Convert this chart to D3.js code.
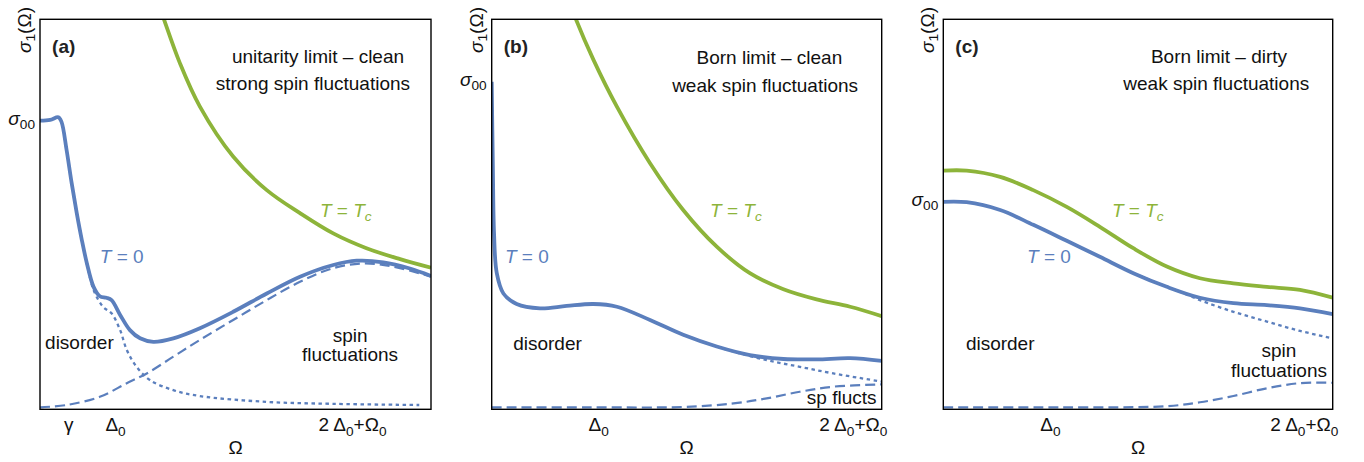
<!DOCTYPE html>
<html><head><meta charset="utf-8">
<script src="https://cdn.jsdelivr.net/npm/d3@7"></script>
<style>body{margin:0;background:#fff} text{font-family:"Liberation Sans",Arial,Helvetica,sans-serif}</style>
</head><body><svg id="chart" width="1364" height="462"></svg>
<script>
// ---------- data (normalised Ω on x, σ1 on y, both 0..1) ----------
// Panel (a): unitarity limit – clean, strong spin fluctuations
const aT0 = [[0,0.740],[0.026,0.742],[0.047,0.749],[0.055,0.737],[0.068,0.665],[0.081,0.580],[0.094,0.503],[0.107,0.434],[0.120,0.374],[0.137,0.314],[0.153,0.290],[0.170,0.286],[0.183,0.280],[0.205,0.242],[0.230,0.203],[0.256,0.182],[0.290,0.173],[0.341,0.182],[0.409,0.208],[0.494,0.250],[0.580,0.297],[0.665,0.340],[0.750,0.370],[0.810,0.381],[0.878,0.377],[0.946,0.361],[1.0,0.342]];
const aTc = [[0.300,1.05],[0.317,1.0],[0.358,0.887],[0.409,0.776],[0.494,0.648],[0.580,0.562],[0.665,0.503],[0.750,0.451],[0.835,0.413],[0.921,0.385],[1.0,0.363]];
const aDisorder = [[0,0.740],[0.026,0.742],[0.047,0.749],[0.055,0.737],[0.068,0.665],[0.081,0.580],[0.094,0.503],[0.107,0.434],[0.120,0.372],[0.137,0.306],[0.161,0.263],[0.183,0.246],[0.205,0.203],[0.222,0.152],[0.247,0.109],[0.281,0.075],[0.341,0.049],[0.409,0.034],[0.580,0.019],[0.750,0.014],[0.970,0.011]];
const aSpin = [[0,0.005],[0.068,0.011],[0.153,0.032],[0.222,0.067],[0.273,0.092],[0.341,0.135],[0.409,0.178],[0.494,0.229],[0.580,0.280],[0.665,0.327],[0.750,0.362],[0.827,0.374],[0.903,0.366],[1.0,0.340]];
const aXTicks = [0.072, 0.192, 0.798];
const aXTickLabels = ["γ", "Δ_0", "2 Δ_0+Ω_0"];
const aSigma00 = [0.740];

// Panel (b): Born limit – clean, weak spin fluctuations
const bT0 = [[0,0.840],[0.003,0.622],[0.006,0.451],[0.013,0.349],[0.030,0.297],[0.064,0.270],[0.124,0.259],[0.192,0.265],[0.261,0.270],[0.321,0.263],[0.406,0.229],[0.491,0.191],[0.577,0.161],[0.662,0.139],[0.748,0.129],[0.833,0.128],[0.919,0.131],[1.0,0.124]];
const bTc = [[0.205,1.03],[0.216,1.0],[0.261,0.896],[0.321,0.776],[0.406,0.631],[0.491,0.511],[0.577,0.417],[0.662,0.349],[0.748,0.308],[0.833,0.282],[0.919,0.263],[1.0,0.239]];
const bDisorder = [[0.491,0.191],[0.577,0.161],[0.620,0.148],[0.705,0.126],[0.790,0.109],[0.876,0.092],[1.0,0.071]];
const bSpin = [[0,0.005],[0.250,0.005],[0.491,0.006],[0.620,0.015],[0.705,0.028],[0.790,0.045],[0.876,0.058],[1.0,0.064]];
const bXTicks = [0.273, 0.926];
const bXTickLabels = ["Δ_0", "2 Δ_0+Ω_0"];
const bSigma00 = [0.840];

// Panel (c): Born limit – dirty, weak spin fluctuations
const cT0 = [[0,0.532],[0.060,0.531],[0.146,0.511],[0.231,0.473],[0.317,0.432],[0.402,0.391],[0.488,0.349],[0.574,0.314],[0.659,0.286],[0.745,0.272],[0.831,0.267],[0.916,0.259],[1.0,0.244]];
const cTc = [[0,0.612],[0.060,0.612],[0.146,0.596],[0.231,0.562],[0.317,0.519],[0.402,0.468],[0.488,0.413],[0.574,0.366],[0.659,0.336],[0.745,0.323],[0.831,0.314],[0.916,0.306],[1.0,0.286]];
const cDisorder = [[0.488,0.349],[0.574,0.314],[0.617,0.298],[0.659,0.280],[0.745,0.250],[0.831,0.225],[0.916,0.201],[1.0,0.182]];
const cSpin = [[0,0.005],[0.300,0.005],[0.574,0.008],[0.659,0.018],[0.745,0.034],[0.831,0.054],[0.916,0.067],[1.0,0.068]];
const cXTicks = [0.274, 0.926];
const cXTickLabels = ["Δ_0", "2 Δ_0+Ω_0"];
const cSigma00 = [0.532];

// ---------- styling / layout ----------
const BLUE = "#5b7fbd", GREEN = "#8db43a";
const FS = 19;
const TOP = 19.3, BOTTOM = 409.3;

const panels = [
  {left:40, w:391, tag:"(a)", T0:aT0, Tc:aTc, dis:aDisorder, spin:aSpin, xt:aXTicks, xl:aXTickLabels, s0:aSigma00,
   title:[[0.711,0.888,"unitarity limit – clean"],[0.698,0.819,"strong spin fluctuations"]],
   tcLab:[0.716,0.493], t0Lab:[0.153,0.375], disLab:[0.013,0.154],
   spinLab:[[0.793,0.172,"spin"],[0.793,0.125,"fluctuations"]]},
  {left:491.7, w:390, tag:"(b)", T0:bT0, Tc:bTc, dis:bDisorder, spin:bSpin, xt:bXTicks, xl:bXTickLabels, s0:bSigma00,
   title:[[0.712,0.885,"Born limit – clean"],[0.701,0.814,"weak spin fluctuations"]],
   tcLab:[0.560,0.493], t0Lab:[0.034,0.375], disLab:[0.055,0.152],
   spinLab:[[0.808,0.014,"sp flucts", "start"]]},
  {left:943.3, w:389.4, tag:"(c)", T0:cT0, Tc:cTc, dis:cDisorder, spin:cSpin, xt:cXTicks, xl:cXTickLabels, s0:cSigma00,
   title:[[0.708,0.888,"Born limit – dirty"],[0.701,0.819,"weak spin fluctuations"]],
   tcLab:[0.433,0.493], t0Lab:[0.215,0.375], disLab:[0.058,0.152],
   spinLab:[[0.862,0.134,"spin"],[0.862,0.084,"fluctuations"]]}
];

const svg = d3.select("#chart");

function richText(sel, str) {
  // "_x" parts become subscripts
  sel.text(null);
  const parts = str.split(/(_\w+)/).filter(s => s.length);
  let shift = 0;
  parts.forEach(p => {
    if (p.startsWith("_")) {
      sel.append("tspan").attr("font-size", FS*0.72).attr("dy", 5 - shift).text(p.slice(1));
      shift = 5;
    } else {
      const t = sel.append("tspan").text(p);
      if (shift) { t.attr("dy", -shift); shift = 0; }
    }
  });
}

panels.forEach((p, i) => {
  const g = svg.append("g");
  const x = d3.scaleLinear().domain([0,1]).range([p.left, p.left + p.w]);
  const y = d3.scaleLinear().domain([0,1]).range([BOTTOM, TOP]);
  const clipId = "clip" + i;
  svg.append("clipPath").attr("id", clipId).append("rect")
    .attr("x", p.left).attr("y", TOP).attr("width", p.w).attr("height", BOTTOM - TOP);

  const line = d3.line().x(d => x(d[0])).y(d => y(d[1])).curve(d3.curveCatmullRom.alpha(0.5));
  const lines = g.append("g").attr("clip-path", `url(#${clipId})`);
  lines.append("path").attr("d", line(p.spin)).attr("fill","none").attr("stroke",BLUE)
    .attr("stroke-width",2.2).attr("stroke-dasharray","10,5");
  lines.append("path").attr("d", line(p.dis)).attr("fill","none").attr("stroke",BLUE)
    .attr("stroke-width",2.3).attr("stroke-dasharray","3.5,3.5");
  lines.append("path").attr("d", line(p.T0)).attr("fill","none").attr("stroke",BLUE)
    .attr("stroke-width",3.8).attr("stroke-linejoin","round");
  lines.append("path").attr("d", line(p.Tc)).attr("fill","none").attr("stroke",GREEN)
    .attr("stroke-width",3.8).attr("stroke-linejoin","round");

  // frame
  g.append("rect").attr("x", p.left).attr("y", TOP).attr("width", p.w).attr("height", BOTTOM - TOP)
    .attr("fill","none").attr("stroke","#000").attr("stroke-width",1.4);

  // x axis (tick labels only)
  const xAxis = d3.axisBottom(x).tickValues(p.xt).tickSize(0).tickPadding(8)
    .tickFormat((d, k) => p.xl[k]);
  const xg = g.append("g").attr("transform", `translate(0,${BOTTOM})`).call(xAxis);
  xg.attr("font-size", FS).attr("font-family", null);
  xg.select(".domain").remove();
  xg.selectAll(".tick text").attr("font-size", FS).attr("fill","#111")
    .each(function(d, k) { richText(d3.select(this), p.xl[k]); });

  // y axis (σ00 label only)
  const yAxis = d3.axisLeft(y).tickValues(p.s0).tickSize(0).tickPadding(5).tickFormat(() => "");
  const yg = g.append("g").attr("transform", `translate(${p.left},0)`).call(yAxis);
  yg.attr("font-size", FS).attr("font-family", null);
  yg.select(".domain").remove();
  yg.selectAll(".tick text").attr("font-size", FS).attr("fill","#111")
    .attr("dy","0.2em")
    .each(function() {
      const t = d3.select(this);
      t.append("tspan").attr("font-style","italic").text("σ");
      t.append("tspan").attr("font-size", FS*0.72).attr("dy", 4).text("00");
    });

  // axis titles
  g.append("text").attr("x", p.left + p.w/2).attr("y", 454).attr("text-anchor","middle")
    .attr("font-size", FS).attr("fill","#111").text("Ω");
  const yl = g.append("text").attr("transform", `translate(${p.left - 9},30) rotate(-90)`)
    .attr("text-anchor","middle").attr("font-size", FS).attr("fill","#111");
  yl.append("tspan").attr("font-style","italic").text("σ");
  yl.append("tspan").attr("font-size", FS*0.72).attr("dy", 4).text("1");
  yl.append("tspan").attr("dy", -4).text("(Ω)");

  // panel tag
  g.append("text").attr("x", x(0.031)).attr("y", 53).attr("font-size", FS).attr("font-weight","bold")
    .attr("fill","#222").text(p.tag);

  // titles
  p.title.forEach(t => g.append("text").attr("x", x(t[0])).attr("y", y(t[1])).attr("text-anchor","middle")
    .attr("font-size", FS).attr("fill","#111").text(t[2]));

  // T = Tc
  const tc = g.append("text").attr("x", x(p.tcLab[0])).attr("y", y(p.tcLab[1]))
    .attr("font-size", FS).attr("fill", GREEN);
  tc.append("tspan").attr("font-style","italic").text("T");
  tc.append("tspan").text(" = ");
  tc.append("tspan").attr("font-style","italic").text("T");
  tc.append("tspan").attr("font-style","italic").attr("font-size", FS*0.72).attr("dy", 4).text("c");

  // T = 0
  const t0 = g.append("text").attr("x", x(p.t0Lab[0])).attr("y", y(p.t0Lab[1]))
    .attr("font-size", FS).attr("fill", BLUE);
  t0.append("tspan").attr("font-style","italic").text("T");
  t0.append("tspan").text(" = 0");

  // disorder
  g.append("text").attr("x", x(p.disLab[0])).attr("y", y(p.disLab[1]))
    .attr("font-size", FS).attr("fill","#111").text("disorder");

  // spin fluctuations
  p.spinLab.forEach(t => g.append("text").attr("x", x(t[0])).attr("y", y(t[1]))
    .attr("text-anchor", t[3] || "middle").attr("font-size", FS).attr("fill","#111").text(t[2]));
});
</script></body></html>
